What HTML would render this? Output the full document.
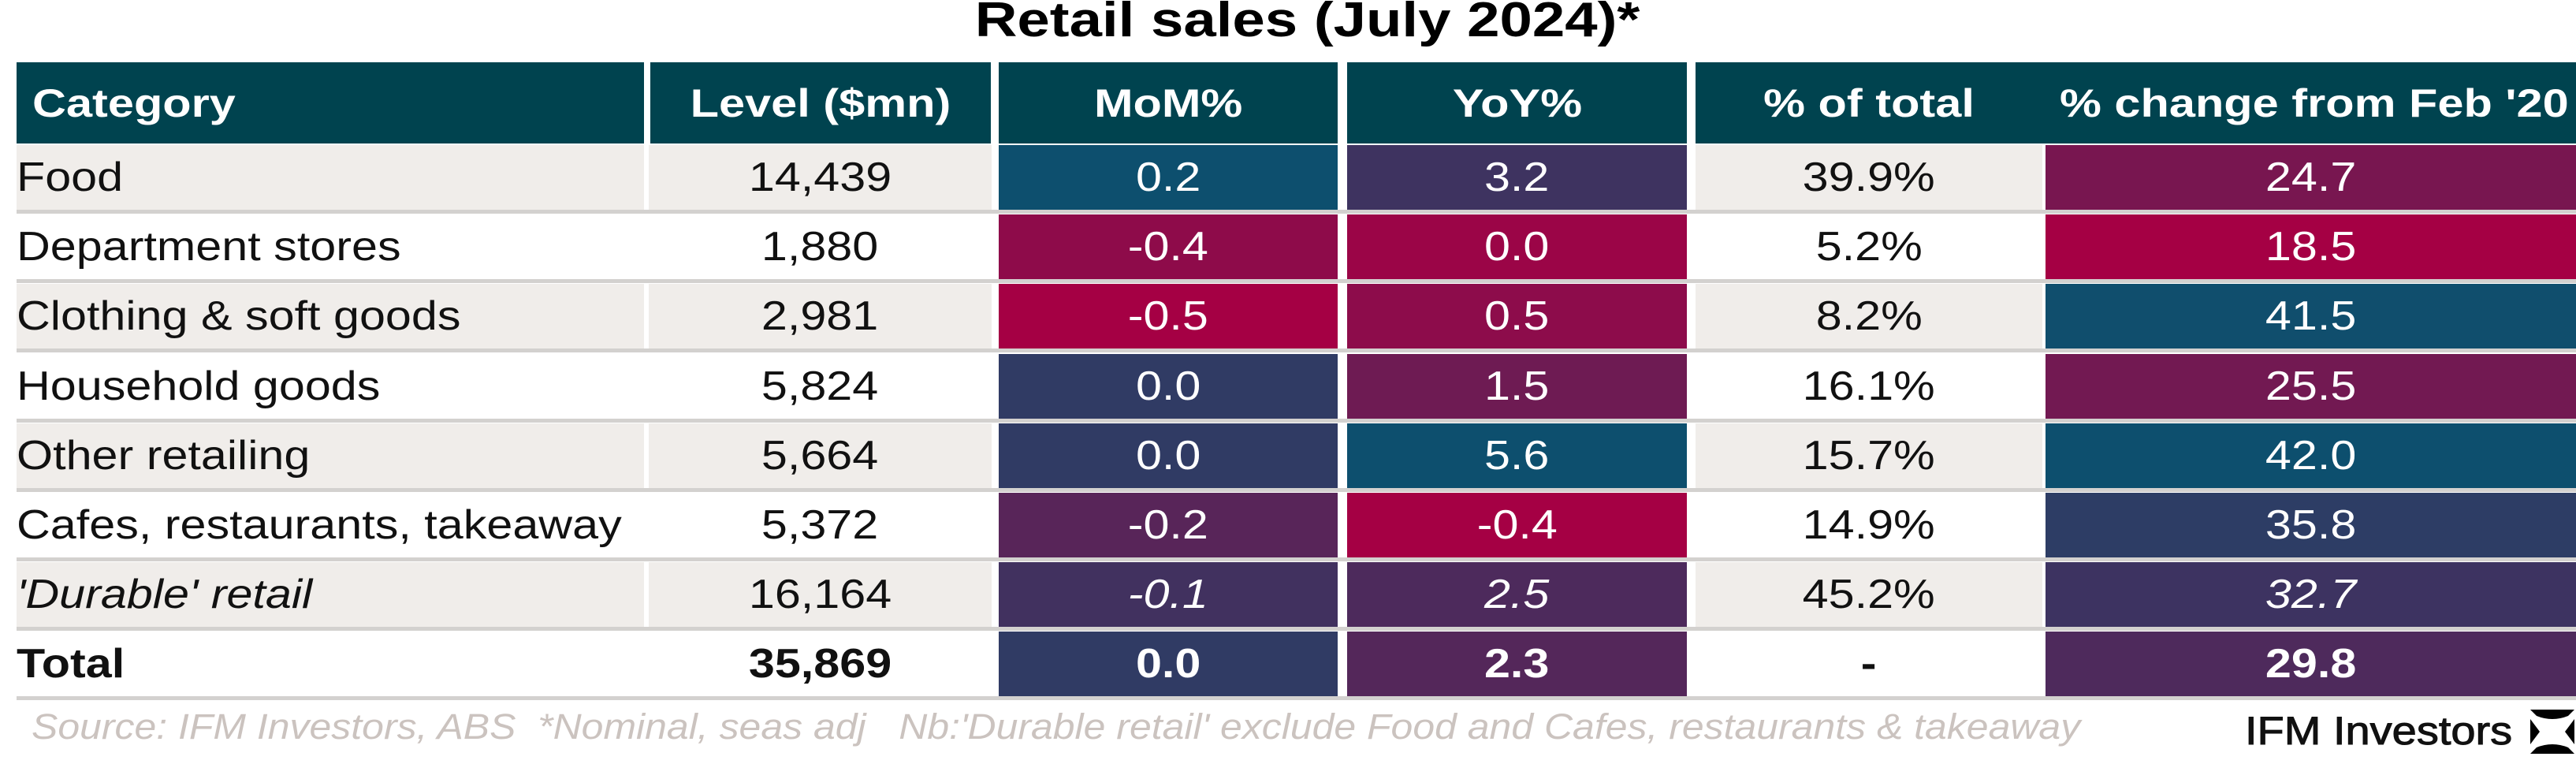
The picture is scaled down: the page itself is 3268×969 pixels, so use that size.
<!DOCTYPE html>
<html><head><meta charset="utf-8"><style>
html,body{margin:0;padding:0;background:#fff;}
#root{position:relative;width:3268px;height:969px;overflow:hidden;font-family:"Liberation Sans",Arial,sans-serif;}
.cell{position:absolute;display:flex;align-items:center;justify-content:center;font-size:52px;color:#111;white-space:nowrap;overflow:hidden;box-sizing:border-box;}
.cell span{display:inline-block;transform:scaleX(1.14);}
.cell.left span{transform-origin:left center;}
.hdr{background:#00434f;color:#fff;font-weight:bold;font-size:50px;}
.hdr span{transform:scaleX(1.19);}
.sep{position:absolute;height:5px;background:#d3d1cf;}
</style></head><body>
<div id="root">
<div style="position:absolute;left:0;width:3268px;top:-10px;text-align:center;font-weight:bold;font-size:62px;color:#000;padding-left:50px;box-sizing:border-box;"><span style="display:inline-block;transform:scaleX(1.2)">Retail sales (July 2024)*</span></div>
<div style="position:absolute;left:40px;top:896px;font-size:45px;font-style:italic;color:#cbc3bf;white-space:nowrap;transform:scaleX(1.11);transform-origin:left top;">Source: IFM Investors, ABS&nbsp; *Nominal, seas adj&nbsp;&nbsp; Nb:'Durable retail' exclude Food and Cafes, restaurants &amp; takeaway</div>
<div style="position:absolute;left:2848px;top:898px;font-size:50px;color:#111;white-space:nowrap;transform:scaleX(1.12);transform-origin:left top;-webkit-text-stroke:1px #111;">IFM Investors</div>
<svg style="position:absolute;left:3208px;top:898px" width="60" height="60" viewBox="0 0 60 60"><path d="M2 2 H58 L50 10 Q30 18 10 10Z M2 58 H58 L50 50 Q30 42 10 50Z M2 14 L14 30 L2 46Z M58 14 L46 30 L58 46Z" fill="#000"/></svg>
</div>
<script>
const categories=["Food","Department stores","Clothing & soft goods","Household goods","Other retailing","Cafes, restaurants, takeaway","'Durable' retail","Total"];
const levels=["14,439","1,880","2,981","5,824","5,664","5,372","16,164","35,869"];
const mom=[0.2,-0.4,-0.5,0.0,0.0,-0.2,-0.1,0.0];
const yoy=[3.2,0.0,0.5,1.5,5.6,-0.4,2.5,2.3];
const shareOfTotal=["39.9%","5.2%","8.2%","16.1%","15.7%","14.9%","45.2%","-"];
const changeFromFeb20=[24.7,18.5,41.5,25.5,42.0,35.8,32.7,29.8];
const headers=["Category","Level ($mn)","MoM%","YoY%","% of total","% change from Feb '20"];

const root=document.getElementById('root');
const cols=[[21,817],[823,1258],[1267,1697],[1709,2140],[2151,2591],[2595,3268]];
const rowTop=184,rowH=88.2,hdrTop=79,hdrH=103;
function mix(a,b,t){return a.map((v,i)=>Math.round(v+(b[i]-v)*t));}
function colorFor(v,arr){
  const mn=Math.min(...arr),mx=Math.max(...arr);
  const t=mx===mn?0.5:(v-mn)/(mx-mn);
  const lo=[165,0,68],mid=[74,44,93],hi=[13,79,110];
  const c=t<0.5?mix(lo,mid,Math.pow(t*2,1.1)):mix(mid,hi,(t-0.5)*2);
  return 'rgb('+c.join(',')+')';
}
function mk(name,x0,x1,y,h,text,cls){
  const d=document.createElement('div');
  d.className='cell '+(cls||'');
  d.style.left=x0+'px';d.style.width=(x1-x0)+'px';d.style.top=y+'px';d.style.height=h+'px';
  const s=document.createElement('span');s.textContent=text;d.appendChild(s);
  
  
  root.appendChild(d);return d;
}
const hx=[[21,817],[825,1257],[1267,1697],[1709,2140]];
headers.slice(0,4).forEach((h,i)=>{
  const d=mk('header-'+i,hx[i][0],hx[i][1],hdrTop,hdrH,h,'hdr'+(i===0?' left':''));
  if(i===0){d.style.justifyContent='flex-start';d.style.paddingLeft='20px';}
});
const hl=mk('header-merged',2151,3268,hdrTop,hdrH,'','hdr');
const hs1=document.createElement('span');hs1.textContent=headers[4];


hs1.style.cssText='position:absolute;left:0;width:440px;text-align:center;';
const hs2=document.createElement('span');hs2.textContent=headers[5];


hs2.style.cssText='position:absolute;left:462px;white-space:nowrap;transform-origin:left center;';
hl.appendChild(hs1);hl.appendChild(hs2);

categories.forEach((c,r)=>{
  const y=Math.round(rowTop+r*rowH),h=Math.round(rowH-6);
  const bg=r%2===0?'#f0edea':'#ffffff';
  const bold=r===7,ital=r===6;
  const st=(d,it)=>{if(bold)d.style.fontWeight='bold';if(ital&&it)d.style.fontStyle='italic';return d;};
  let d=st(mk('category-'+r,cols[0][0],cols[0][1],y,h,c,'left'),true);
  d.style.background=bg;d.style.justifyContent='flex-start';
  d=st(mk('level-'+r,cols[1][0],cols[1][1],y,h,levels[r]),false);d.style.background=bg;
  d=st(mk('mom-'+r,cols[2][0],cols[2][1],y,h,mom[r].toFixed(1)),true);
  d.style.background=colorFor(mom[r],mom);d.style.color='#fff';
  d=st(mk('yoy-'+r,cols[3][0],cols[3][1],y,h,yoy[r].toFixed(1)),true);
  d.style.background=colorFor(yoy[r],yoy);d.style.color='#fff';
  d=st(mk('share-'+r,cols[4][0],cols[4][1],y,h,shareOfTotal[r]),false);d.style.background=bg;
  d=st(mk('feb20-change-'+r,cols[5][0],cols[5][1],y,h,changeFromFeb20[r].toFixed(1)),true);
  d.style.background=colorFor(changeFromFeb20[r],changeFromFeb20);d.style.color='#fff';
  const s=document.createElement('div');s.className='sep';
  
  
  s.style.left='21px';s.style.width='3247px';s.style.top=(y+h)+'px';
  root.appendChild(s);
});
</script>
</body></html>
